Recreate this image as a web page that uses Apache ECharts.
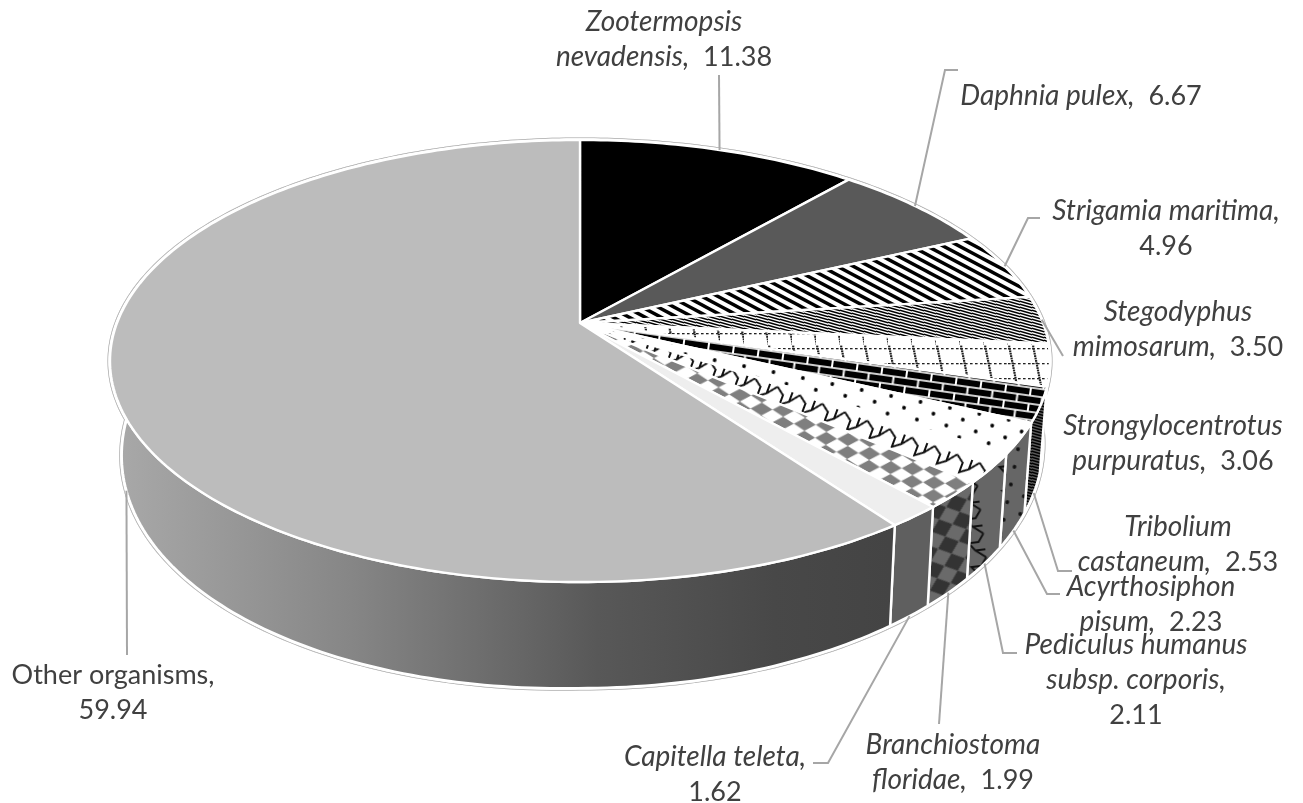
<!DOCTYPE html>
<html lang="en">
<head>
    <meta charset="utf-8" />
    <title>Organisms</title>
    <style>
        html, body { margin: 0; padding: 0; background: #fff; }
    </style>
</head>
<body>
    <div id="main" style="width:1303px;height:803px"></div>
    <script src="https://cdn.jsdelivr.net/npm/echarts@6/dist/echarts.min.js"></script>
    <script>
        // data, in the clockwise order of the slices starting from 12 o'clock
        var categories = ['Zootermopsis\nnevadensis,', 'Daphnia pulex,', 'Strigamia maritima,', 'Stegodyphus\nmimosarum,',
            'Strongylocentrotus\npurpuratus,', 'Tribolium\ncastaneum,', 'Acyrthosiphon\npisum,',
            'Pediculus humanus\nsubsp. corporis,', 'Branchiostoma\nfloridae,', 'Capitella teleta,', 'Other organisms,'];
        var values = [11.38, 6.67, 4.96, 3.50, 3.06, 2.53, 2.23, 2.11, 1.99, 1.62, 59.94];

        // label layout: [centre x, centre y of first line, value on its own line, italic]
        var labelPos = [
            [664, 22, 0, 1], [1081, 96, 0, 1], [1166, 211, 1, 1], [1178, 312, 0, 1], [1173, 426, 0, 1], [1178, 527, 0, 1],
            [1151, 587, 0, 1], [1136, 645, 1, 1], [953, 745, 0, 1], [715, 757, 1, 1], [113, 675, 1, 0]
        ];
        // leader line: points after the slice anchor, and whether it leaves from the top face
        var leaderPts = [
            [[719, 75]], [[945, 70], [958, 70]], [[1028, 218], [1040, 218]], [[1063, 356]],
            null, [[1058, 571], [1072, 571]], [[1047, 594], [1060, 594]],
            [[1003, 653], [1017, 653]], [[939, 724]], [[828, 763], [813, 763]], [[127, 655]]
        ];
        var leaderFromTop = [1, 1, 1, 1, 1, 0, 0, 0, 0, 0, 0];

        // pie projection, the tilted disc has perspective: back is shorter than front
        var CX = 580, CY = 323, RX = 463, RY = 214.5, K = 0.172;
        var textColor = '#404040', leaderColor = '#a6a6a6';

        function tile(w, h, draw) {
            var c = document.createElement('canvas');
            c.width = w; c.height = h;
            draw(c.getContext('2d'), w, h);
            return c;
        }
        function stripes(bg, fg) {
            return { image: tile(32, 17, function (g, w, h) {
                g.fillStyle = bg; g.fillRect(0, 0, w, h);
                g.strokeStyle = fg; g.lineWidth = 3.4;
                for (var i = -2; i < 4; i++) {
                    g.beginPath(); g.moveTo(i * 16 - 16, -8.5); g.lineTo(i * 16 + 48, 25.5); g.stroke();
                }
            }), repeat: 'repeat' };
        }
        function hatch(bg, fg) {
            return { image: tile(12, 3, function (g, w, h) {
                g.fillStyle = bg; g.fillRect(0, 0, w, h);
                g.strokeStyle = fg; g.lineWidth = 1.5;
                for (var i = -2; i < 3; i++) {
                    g.beginPath(); g.moveTo(-12, i * 3 - 3 + 1); g.lineTo(24, i * 3 + 9 - 2 + 1); g.stroke();
                }
            }), repeat: 'repeat' };
        }
        function plaid(bg, fg) {
            return { image: tile(24, 120, function (g, w, h) {
                g.fillStyle = bg; g.fillRect(0, 0, w, h);
                g.fillStyle = fg;
                for (var y = 0; y < 120; y += 2.4) {
                    g.fillRect((3 + y * 0.2) % 24, y, 2.2, 1.8);
                }
                for (var r = 3; r < 120; r += 15) {
                    for (var x = 0; x < 24; x += 5) g.fillRect(x, r, 2.6, 1.3);
                }
            }), repeat: 'repeat' };
        }
        function bricks(bg, fg) {
            return { image: tile(25, 16, function (g, w, h) {
                g.fillStyle = bg; g.fillRect(0, 0, w, h);
                g.fillStyle = fg;
                g.fillRect(1, 0.8, 23, 6.4);
                g.fillRect(-11.5, 8.8, 23, 6.4); g.fillRect(13.5, 8.8, 23, 6.4);
            }), repeat: 'repeat', rotation: 0.14 };
        }
        function dots(bg, fg) {
            return { image: tile(30, 18, function (g, w, h) {
                g.fillStyle = bg; g.fillRect(0, 0, w, h);
                g.fillStyle = fg;
                [[7, 4], [22, 13]].forEach(function (p) {
                    g.beginPath(); g.arc(p[0], p[1], 1.9, 0, 7); g.fill();
                });
            }), repeat: 'repeat', rotation: 0.2 };
        }
        function zigzag(bg, fg, rot) {
            return { image: tile(24, 40, function (g, w, h) {
                g.fillStyle = bg; g.fillRect(0, 0, w, h);
                g.strokeStyle = fg; g.lineWidth = 2;
                g.beginPath();
                g.moveTo(0, 8); g.lineTo(8, 14); g.lineTo(8, 24); g.lineTo(16, 18); g.lineTo(24, 8);
                g.moveTo(16, 18); g.lineTo(16, 8);
                g.stroke();
            }), repeat: 'repeat', rotation: rot };
        }
        function checker(bg, fg, sy, rot) {
            return { image: tile(22, 13, function (g, w, h) {
                g.fillStyle = bg; g.fillRect(0, 0, w, h);
                g.fillStyle = fg;
                g.beginPath(); g.moveTo(11, 0); g.lineTo(22, 6.5); g.lineTo(11, 13); g.lineTo(0, 6.5); g.closePath(); g.fill();
            }), repeat: 'repeat', rotation: rot, scaleY: sy };
        }

        var topFill = ['#000000', '#595959', stripes('#fff', '#000'), hatch('#fff', '#000'), plaid('#fff', '#222'),
            bricks('#fff', '#000'), dots('#fff', '#000'), zigzag('#fff', '#111', 0.36), checker('#fff', '#7f7f7f', 1, 0.05), '#eeeeee', '#bcbcbc'];
        var wallGradient = new echarts.graphic.LinearGradient(120, 0, 890, 0, [
            { offset: 0, color: '#a8a8a8' }, { offset: 0.3, color: '#868686' },
            { offset: 0.62, color: '#585858' }, { offset: 0.85, color: '#484848' }, { offset: 1, color: '#444444' }
        ], true);
        var wallFill = ['#000000', '#333333', stripes('#666', '#000'), hatch('#666', '#111'), plaid('#666', '#111'),
            hatch('#5a5a5a', '#000'), dots('#666', '#111'), zigzag('#666', '#111', 1.45), checker('#333', '#6a6a6a', 1.4, -0.35), '#5f5f5f', wallGradient];

        var total = values.reduce(function (a, b) { return a + b; }, 0);
        var rows = [], run = 0;
        values.forEach(function (v, i) {
            rows.push([run / total * 360, (run + v) / total * 360, i]);
            run += v;
        });

        function topPoint(deg) {
            var t = deg * Math.PI / 180, u = Math.sin(t), v = -Math.cos(t), w = 1 - K * v;
            return [CX + RX * u / w, CY + RY * v / w];
        }
        // bottom rim, the wall is a bit taller and narrower on the left side
        function bottomPoint(deg) {
            var t = deg * Math.PI / 180, u = Math.sin(t), v = -Math.cos(t), p = topPoint(deg);
            var s = u < 0 ? 0.975 : 0.985;
            return [CX + (p[0] - CX) * s, p[1] + 78 + 28 * v + (u < 0 ? -12 * u : 0)];
        }
        function arc(fn, a, b) {
            var pts = [], n = Math.max(2, Math.ceil(Math.abs(b - a) / 1));
            for (var i = 0; i <= n; i++) pts.push(fn(a + (b - a) * i / n));
            return pts;
        }
        function outline(stroke, lw) {
            return function () {
                var wall = arc(topPoint, 0, 360).concat(arc(bottomPoint, 360, 0));
                var st = { fill: '#fff', stroke: stroke, lineWidth: lw };
                return { type: 'group', children: [
                    { type: 'polygon', shape: { points: arc(topPoint, 0, 360) }, style: st },
                    { type: 'polygon', shape: { points: arc(bottomPoint, 0, 360) }, style: st },
                    { type: 'polygon', shape: { points: wall }, style: st }
                ] };
            };
        }
        function renderWall(params, api) {
            var a = api.value(0), b = api.value(1), i = api.value(2);
            return {
                type: 'polygon',
                shape: { points: arc(topPoint, a, b).concat(arc(bottomPoint, b, a)) },
                style: { fill: wallFill[i], stroke: '#fff', lineWidth: 2.4, lineJoin: 'round' }
            };
        }
        function renderTop(params, api) {
            var a = api.value(0), b = api.value(1), i = api.value(2);
            return {
                type: 'polygon',
                shape: { points: [[CX, CY]].concat(arc(topPoint, a, b)) },
                style: { fill: topFill[i], stroke: '#fff', lineWidth: 2.4, lineJoin: 'round' }
            };
        }
        function labelText(i) {
            var pos = labelPos[i], key = pos[3] ? 'i' : 'n';
            var lines = categories[i].split('\n').map(function (s) { return '{' + key + '|' + s + '}'; });
            var val = '{n|' + values[i].toFixed(2) + '}';
            if (pos[2]) lines.push(val);
            else lines[lines.length - 1] += '{n|  }' + val;
            return lines.join('\n');
        }
        function renderLabel(params, api) {
            var a = api.value(0), b = api.value(1), i = api.value(2), mid = (a + b) / 2;
            var start = leaderFromTop[i] ? topPoint(mid) : bottomPoint(mid);
            var pos = labelPos[i];
            var kids = [
                { type: 'text', x: pos[0], y: pos[1] - 17.5, style: {
                    text: labelText(i), align: 'center', verticalAlign: 'top',
                    rich: {
                        i: { fontFamily: 'Lato', fontStyle: 'italic', fontSize: 28, lineHeight: 35, fill: textColor },
                        n: { fontFamily: 'Lato', fontSize: 27, lineHeight: 35, fill: textColor }
                    }
                } }
            ];
            if (leaderPts[i]) {
                kids.unshift({ type: 'polyline', shape: { points: [start].concat(leaderPts[i]) },
                    style: { fill: null, stroke: leaderColor, lineWidth: 2 } });
            }
            return { type: 'group', children: kids };
        }

        var myChart = echarts.init(document.getElementById('main'), null, { renderer: 'canvas' });
        myChart.setOption({
            backgroundColor: '#fff',
            animation: false,
            series: [
                { type: 'custom', coordinateSystem: 'none', silent: true, z: 1, data: [[0]], renderItem: outline('#bdbdbd', 5) },
                { type: 'custom', coordinateSystem: 'none', silent: true, z: 2, data: [[0]], renderItem: outline('#ffffff', 3) },
                { type: 'custom', coordinateSystem: 'none', z: 3, data: rows, renderItem: renderWall },
                { type: 'custom', coordinateSystem: 'none', z: 4, data: rows, renderItem: renderTop },
                { type: 'custom', coordinateSystem: 'none', z: 5, data: rows, renderItem: renderLabel }
            ]
        });
    </script>
</body>
</html>
